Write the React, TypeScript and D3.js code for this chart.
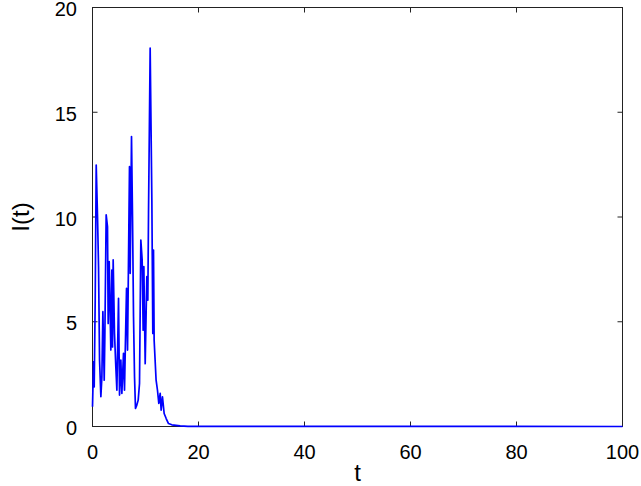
import React, { useEffect, useRef } from "react";
import * as d3 from "d3";

// I(t) trace (t, I)
const tValues = [
  0.0, 0.2, 0.32, 0.51, 0.7, 0.95, 1.14, 1.33, 1.58, 1.77, 1.96, 2.21, 2.33,
  2.58, 2.83, 2.96, 3.15, 3.46, 3.65, 3.78, 3.9, 4.15, 4.4, 4.6, 4.91, 5.1,
  5.35, 5.54, 5.85, 6.04, 6.17, 6.42, 6.61, 6.98, 7.11, 7.36, 7.55, 7.74, 7.93,
  8.11, 8.36, 8.62, 8.87, 9.12, 9.37, 9.56, 9.69, 9.94, 10.25, 10.44, 10.57,
  10.88, 11.2, 11.38, 11.51, 11.63, 12.0, 12.26, 12.51, 12.77, 12.95, 13.2,
  13.52, 13.9, 14.34, 14.97, 16.54, 18.0, 100,
];
const iValues = [
  0.94, 3.09, 1.89, 6.03, 12.48, 10.0, 7.63, 3.17, 1.42, 2.37, 5.48, 2.21, 4.28,
  10.1, 9.54, 4.92, 7.87, 3.65, 7.47, 3.8, 7.95, 4.44, 2.85, 1.73, 6.12, 1.5,
  3.17, 1.58, 3.49, 1.73, 3.49, 6.59, 3.65, 12.4, 7.31, 13.84, 10.0, 5.24, 2.37,
  0.86, 1.02, 1.26, 2.05, 8.9, 7.95, 4.6, 7.63, 3.0, 7.15, 6.03, 10.18, 18.06,
  10.8, 4.44, 8.42, 4.12, 2.21, 1.73, 1.1, 1.58, 0.78, 1.42, 0.62, 0.38, 0.14,
  0.08, 0.03, 0.01, 0,
];
const xTicks = [0, 20, 40, 60, 80, 100];
const yTicks = [0, 5, 10, 15, 20];

const W = 641;
const H = 486;

export default function App() {
  const ref = useRef<SVGSVGElement>(null);

  useEffect(() => {
    const svg = d3.select(ref.current);
    svg.selectAll("*").remove();

    const left = 92.5;
    const right = 622.5;
    const top = 7.5;
    const bottom = 426.5;

    const x = d3.scaleLinear().domain([0, 100]).range([left, right]);
    const y = d3.scaleLinear().domain([0, 20]).range([bottom, top]);

    const font = "'Liberation Sans', Arial, sans-serif";
    const tickLen = 5;

    // ticks, mirrored on all sides, pointing inward
    const g = svg.append("g").attr("stroke", "#222").attr("stroke-width", 1);
    xTicks.forEach((t) => {
      g.append("line")
        .attr("x1", x(t)).attr("x2", x(t))
        .attr("y1", bottom).attr("y2", bottom - tickLen);
      g.append("line")
        .attr("x1", x(t)).attr("x2", x(t))
        .attr("y1", top).attr("y2", top + tickLen);
    });
    yTicks.forEach((v) => {
      g.append("line")
        .attr("x1", left).attr("x2", left + tickLen)
        .attr("y1", y(v)).attr("y2", y(v));
      g.append("line")
        .attr("x1", right).attr("x2", right - tickLen)
        .attr("y1", y(v)).attr("y2", y(v));
    });

    // frame
    svg
      .append("rect")
      .attr("x", left)
      .attr("y", top)
      .attr("width", right - left)
      .attr("height", bottom - top)
      .style("fill", "none")
      .style("stroke", "#222")
      .style("stroke-width", 1);

    // tick labels
    svg
      .append("g")
      .selectAll("text")
      .data(xTicks)
      .join("text")
      .attr("x", (d) => x(d))
      .attr("y", 459)
      .attr("text-anchor", "middle")
      .style("font-family", font)
      .style("font-size", "20px")
      .text((d) => d);

    svg
      .append("g")
      .selectAll("text")
      .data(yTicks)
      .join("text")
      .attr("x", 77)
      .attr("y", (d) => y(d) + 8.5)
      .attr("text-anchor", "end")
      .style("font-family", font)
      .style("font-size", "20px")
      .text((d) => d);

    // axis titles
    svg
      .append("text")
      .attr("x", (left + right) / 2)
      .attr("y", 481)
      .attr("text-anchor", "middle")
      .style("font-family", font)
      .style("font-size", "24px")
      .text("t");

    svg
      .append("text")
      .attr("transform", `translate(29, ${(top + bottom) / 2}) rotate(-90)`)
      .attr("text-anchor", "middle")
      .style("font-family", font)
      .style("font-size", "24px")
      .text("I(t)");

    // the trace
    const pts = tValues.map((t, i) => [t, iValues[i]] as [number, number]);
    const line = d3
      .line<[number, number]>()
      .x((d) => x(d[0]))
      .y((d) => y(d[1]));

    svg
      .append("path")
      .attr("d", line(pts))
      .style("fill", "none")
      .style("stroke", "#0000ff")
      .style("stroke-width", 1.7)
      .style("stroke-linejoin", "round");
  }, []);

  return (
    <div style={{ position: "absolute", left: 0, top: 0, background: "#fff" }}>
      <svg ref={ref} width={W} height={H} />
    </div>
  );
}
